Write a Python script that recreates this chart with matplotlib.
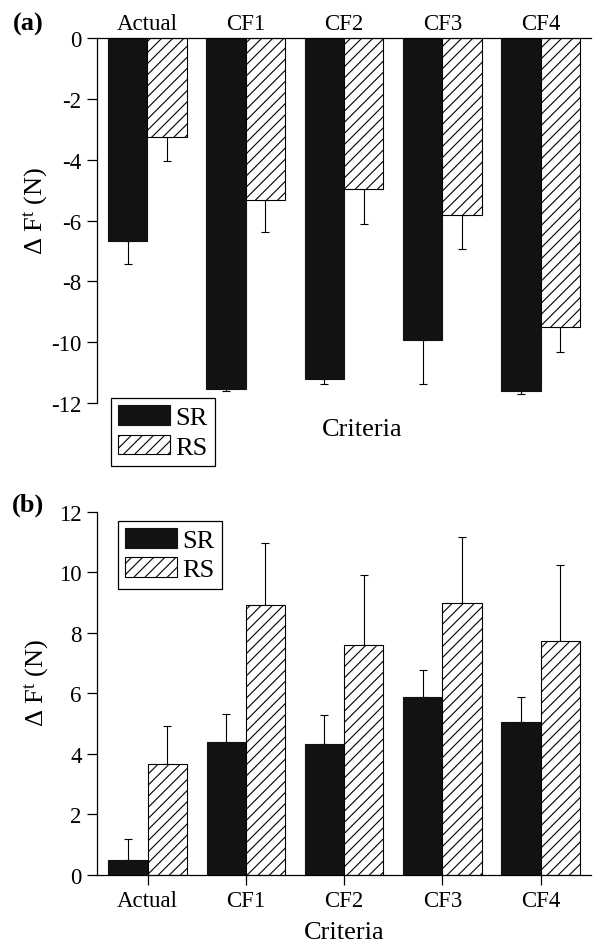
import numpy as np
import matplotlib
matplotlib.use("Agg")
import matplotlib.pyplot as plt

plt.rcParams['font.family'] = ['Liberation Serif', 'DejaVu Serif']
plt.rcParams['mathtext.fontset'] = 'custom'
plt.rcParams['mathtext.rm'] = 'Liberation Serif'
plt.rcParams['mathtext.it'] = 'Liberation Serif:italic'
plt.rcParams['axes.unicode_minus'] = False
plt.rcParams['hatch.linewidth'] = 0.8

categories = ["Actual", "CF1", "CF2", "CF3", "CF4"]
series_names = ["SR", "RS"]

# panel (a)
sr_a = [-6.67, -11.54, -11.20, -9.93, -11.60]
sr_a_err = [0.77, 0.08, 0.18, 1.43, 0.09]
rs_a = [-3.26, -5.31, -4.96, -5.81, -9.49]
rs_a_err = [0.78, 1.06, 1.14, 1.14, 0.84]

# panel (b)
sr_b = [0.47, 4.39, 4.32, 5.86, 5.06]
sr_b_err = [0.70, 0.92, 0.97, 0.92, 0.83]
rs_b = [3.67, 8.93, 7.60, 8.99, 7.74]
rs_b_err = [1.23, 2.02, 2.30, 2.19, 2.50]

yticks_a = [0, -2, -4, -6, -8, -10, -12]
yticks_b = [0, 2, 4, 6, 8, 10, 12]

FS = 16.5      # tick labels
FL = 19        # axis labels / legend
W, H = 604, 953
fig = plt.figure(figsize=(W / 100, H / 100), dpi=100)

ax1 = fig.add_axes([96.7 / W, 1 - 404 / H, 494 / W, 365 / H])
ax2 = fig.add_axes([97 / W, 1 - 875.7 / H, 493.7 / W, 363 / H])

x = np.arange(len(categories))
bw = 0.4
SR_COLOR = '#121212'


def draw(ax, sr, sr_err, rs, rs_err, negative):
    z = np.zeros(len(sr))
    if negative:
        e_sr = [sr_err, z]
        e_rs = [rs_err, z]
    else:
        e_sr = [z, sr_err]
        e_rs = [z, rs_err]
    ax.errorbar(x - bw / 2, sr, yerr=e_sr, fmt='none', ecolor='black',
                elinewidth=0.8, capsize=3, capthick=0.8, zorder=1)
    ax.errorbar(x + bw / 2, rs, yerr=e_rs, fmt='none', ecolor='black',
                elinewidth=0.8, capsize=3, capthick=0.8, zorder=1)
    b1 = ax.bar(x - bw / 2, sr, bw, color=SR_COLOR, edgecolor=SR_COLOR,
                linewidth=0.8, zorder=2, label=series_names[0])
    b2 = ax.bar(x + bw / 2, rs, bw, facecolor='white', edgecolor='black',
                hatch='///', linewidth=0.8, zorder=2, label=series_names[1])
    ax.set_xlim(-0.515, 4.51)
    ax.spines['right'].set_visible(False)
    for s in ax.spines.values():
        s.set_linewidth(0.9)
    ax.tick_params(axis='y', direction='out', length=7, width=0.9,
                   labelsize=FS, pad=4)
    return b1, b2


leg_kw = dict(borderaxespad=0, fontsize=FL, fancybox=False, framealpha=1,
              edgecolor='black', handlelength=1.97, handleheight=0.76,
              handletextpad=0.2, labelspacing=0.2, borderpad=0.28)

# ---- panel (a)
h1, h2 = draw(ax1, sr_a, sr_a_err, rs_a, rs_a_err, True)
ax1.set_ylim(-12, 0)
ax1.set_yticks(yticks_a)
ax1.set_yticklabels([str(t) for t in yticks_a])
ax1.spines['bottom'].set_visible(False)
ax1.xaxis.tick_top()
ax1.set_xticks(x)
ax1.set_xticklabels(categories)
ax1.tick_params(axis='x', length=0, labelsize=FS, pad=3)
ax1.set_ylabel('Δ F$^{\\mathrm{t}}$ (N)', fontsize=FL)
ax1.yaxis.set_label_coords(-0.094, 0.53)
fig.text(362 / W, 1 - 430 / H, 'Criteria', fontsize=FL, ha='center', va='center')
leg1 = ax1.legend(handles=[h1, h2], loc='upper left',
                  bbox_to_anchor=(111 / W, 1 - 399 / H),
                  bbox_transform=fig.transFigure, **leg_kw)
leg1.get_frame().set_linewidth(0.9)
fig.text(28 / W, 1 - 24 / H, '(a)', fontsize=FL, fontweight='bold',
         ha='center', va='center')

# ---- panel (b)
h1, h2 = draw(ax2, sr_b, sr_b_err, rs_b, rs_b_err, False)
ax2.set_ylim(0, 12)
ax2.set_yticks(yticks_b)
ax2.set_yticklabels([str(t) for t in yticks_b])
ax2.spines['top'].set_visible(False)
ax2.set_xticks(x)
ax2.set_xticklabels(categories)
ax2.tick_params(axis='x', direction='out', length=7, width=0.9,
                labelsize=FS, pad=4)
ax2.set_xlabel('Criteria', fontsize=FL, labelpad=7)
ax2.set_ylabel('Δ F$^{\\mathrm{t}}$ (N)', fontsize=FL)
ax2.yaxis.set_label_coords(-0.094, 0.53)
leg2 = ax2.legend(handles=[h1, h2], loc='upper left',
                  bbox_to_anchor=(118 / W, 1 - 521.7 / H),
                  bbox_transform=fig.transFigure, **leg_kw)
leg2.get_frame().set_linewidth(0.9)
fig.text(28 / W, 1 - 505 / H, '(b)', fontsize=FL, fontweight='bold',
         ha='center', va='center')

fig.savefig('out.png', dpi=100)
